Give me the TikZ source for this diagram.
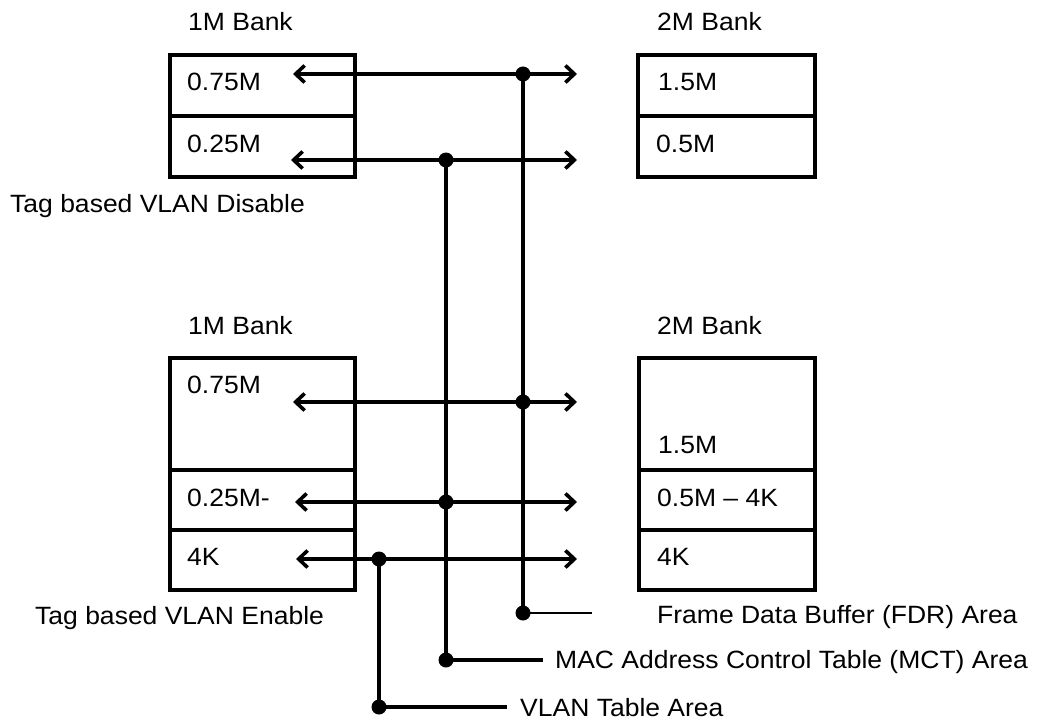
\documentclass[tikz,border=0pt]{standalone}
\usepackage{fontspec}
\setmainfont{Liberation Sans}[FakeStretch=1.06]
\usetikzlibrary{arrows.meta}
\begin{document}
\begin{tikzpicture}[x=1pt,y=-1pt,
 cell/.style={draw,line width=3.4pt,anchor=north west,inner sep=0pt,outer sep=0pt},
 lbl/.style={anchor=base west,inner sep=0pt,font=\fontsize{25}{30}\selectfont},
 bus/.style={line width=3.6pt},
 thinbus/.style={line width=1.8pt},
 dbl/.style={line width=3.6pt,{Straight Barb[length=9pt,width=17pt]}-{Straight Barb[length=9pt,width=17pt]}},
 dot/.style={circle,fill,inner sep=0pt,minimum size=15pt}]
\useasboundingbox (0,0) rectangle (1048,722);
% boxes
\node[cell,minimum width=185pt,minimum height=61pt] (a1) at (170,55) {};
\node[cell,minimum width=185pt,minimum height=61pt] (a2) at (170,116) {};
\node[cell,minimum width=177pt,minimum height=61pt] (b1) at (638,55) {};
\node[cell,minimum width=177pt,minimum height=61pt] (b2) at (638,116) {};
\node[cell,minimum width=185pt,minimum height=112pt] (c1) at (170,358) {};
\node[cell,minimum width=185pt,minimum height=60pt] (c2) at (170,470) {};
\node[cell,minimum width=185pt,minimum height=60pt] (c3) at (170,530) {};
\node[cell,minimum width=176pt,minimum height=112pt] (e1) at (639,358) {};
\node[cell,minimum width=176pt,minimum height=60pt] (e2) at (639,470) {};
\node[cell,minimum width=176pt,minimum height=60pt] (e3) at (639,530) {};
% texts
\node[lbl] (t1) at (188,31) {1M Bank};
\node[lbl] (t2) at (657,31) {2M Bank};
\node[lbl] (t3) at (187,91) {0.75M};
\node[lbl] (t4) at (187,153) {0.25M};
\node[lbl] (t5) at (658,91) {1.5M};
\node[lbl] (t6) at (656,153) {0.5M};
\node[lbl] (t7) at (10,212) {Tag based VLAN Disable};
\node[lbl] (t8) at (188,334) {1M Bank};
\node[lbl] (t9) at (657,334) {2M Bank};
\node[lbl] (t10) at (187,393) {0.75M};
\node[lbl] (t11) at (187,506) {0.25M-};
\node[lbl] (t12) at (187,565) {4K};
\node[lbl] (t13) at (658,453) {1.5M};
\node[lbl] (t14) at (657,506) {0.5M \textendash\ 4K};
\node[lbl] (t15) at (657,565) {4K};
\node[lbl] (t16) at (35,624) {Tag based VLAN Enable};
\node[lbl] (t17) at (657,623) {Frame Data Buffer (FDR) Area};
\node[lbl] (t18) at (555,668) {MAC Address Control Table (MCT) Area};
\node[lbl] (t19) at (520,716) {VLAN Table Area};
% arrow ends
\coordinate (l1) at (293,74);  \coordinate (r1) at (577,74);
\coordinate (l2) at (291,160); \coordinate (r2) at (577,160);
\coordinate (l3) at (293,402); \coordinate (r3) at (577,402);
\coordinate (l4) at (295,502); \coordinate (r4) at (577,502);
\coordinate (l5) at (296,559); \coordinate (r5) at (577,559);
% dots
\node[dot] (f1) at (523,74) {};
\node[dot] (f2) at (523,402) {};
\node[dot] (f3) at (523,613) {};
\node[dot] (m1) at (446,160) {};
\node[dot] (m2) at (446,502) {};
\node[dot] (m3) at (446,660) {};
\node[dot] (v1) at (379,559) {};
\node[dot] (v2) at (379,707) {};
% legend line ends
\coordinate (fe) at (592,613);
\coordinate (me) at (543,660);
\coordinate (ve) at (507,707);
% arrows
\draw[dbl] (l1) -- (r1);
\draw[dbl] (l2) -- (r2);
\draw[dbl] (l3) -- (r3);
\draw[dbl] (l4) -- (r4);
\draw[dbl] (l5) -- (r5);
% buses
\draw[bus] (f1.center) -- (f3.center);
\draw[bus] (m1.center) -- (m3.center);
\draw[bus] (v1.center) -- (v2.center);
\draw[thinbus] (f3.center) -- (fe);
\draw[bus] (m3.center) -- (me);
\draw[bus] (v2.center) -- (ve);
\end{tikzpicture}
\end{document}
